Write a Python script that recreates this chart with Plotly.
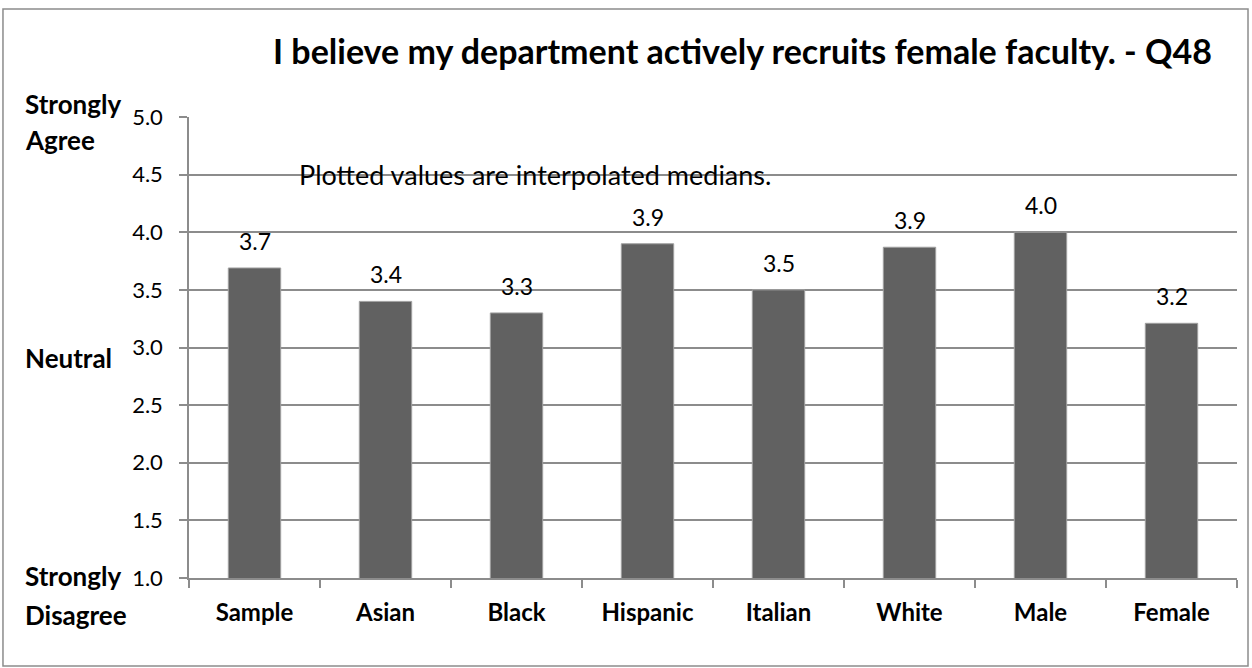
import plotly.graph_objects as go

categories = ["Sample", "Asian", "Black", "Hispanic", "Italian", "White", "Male", "Female"]
values = [3.69, 3.40, 3.30, 3.90, 3.50, 3.87, 4.00, 3.21]
y_ticks = [1.0, 1.5, 2.0, 2.5, 3.0, 3.5, 4.0, 4.5, 5.0]
title_text = "I believe my department actively recruits female faculty. - Q48"
note_text = "Plotted values are interpolated medians."
# (text, axis value, pixel shift)
scale_labels = [("Strongly", 5.0, 13), ("Agree", 5.0, -23),
                ("Neutral", 3.0, -10),
                ("Strongly", 1.0, 2), ("Disagree", 1.0, -37)]

FONT = "Lato"
GRID = "#8c8c8c"

fig = go.Figure()
fig.add_trace(go.Bar(
    x=categories, y=values,
    marker=dict(color="#616161", line=dict(color="#a0a0a0", width=1)),
    width=0.4,
))

for c, v in zip(categories, values):
    fig.add_annotation(x=c, y=v, text=f"{v:.1f}", showarrow=False,
                       yanchor="middle", yshift=27,
                       font=dict(family=FONT, size=23, color="#000000"))

fig.update_layout(
    width=1252, height=668,
    margin=dict(l=189, r=15, t=117, b=90),
    paper_bgcolor="white", plot_bgcolor="white",
    showlegend=False,
    font=dict(family=FONT, color="#000000"),
    xaxis=dict(
        type="category", showline=True, linecolor=GRID, linewidth=1.5,
        ticks="outside", tickson="boundaries", ticklen=8, tickcolor=GRID,
        tickwidth=1.5,
        tickfont=dict(family=FONT, size=24, weight="bold"),
        ticklabelstandoff=12,
        showgrid=False,
    ),
    yaxis=dict(
        range=[1, 5], tickvals=y_ticks, tickformat=".1f",
        showline=True, linecolor=GRID, linewidth=1.5,
        ticks="outside", ticklen=8, tickcolor=GRID, tickwidth=1.5,
        showgrid=True, gridcolor=GRID, gridwidth=1.5,
        tickfont=dict(family=FONT, size=22),
        ticklabelstandoff=12,
        zeroline=False,
    ),
)

fig.add_annotation(text=f"<b>{title_text}</b>", xref="paper", yref="paper",
                   x=0.5286, y=1.1432, xanchor="center", yanchor="middle",
                   showarrow=False, font=dict(family=FONT, size=34))
fig.add_annotation(text=note_text, x=2.14, y=4.5, xref="x", yref="y",
                   xanchor="center", yanchor="middle", showarrow=False,
                   font=dict(family=FONT, size=27))
for lbl, yv, sh in scale_labels:
    fig.add_annotation(text=f"<b>{lbl}</b>", xref="paper", yref="y",
                       x=-0.1584, y=yv, xanchor="left", yanchor="middle",
                       yshift=sh, showarrow=False,
                       font=dict(family=FONT, size=26))

fig.add_shape(type="rect", xref="paper", yref="paper",
              x0=-0.1775, x1=1.0105, y0=-0.1909, y1=1.2343,
              line=dict(color="#8c8c8c", width=1.5), fillcolor="rgba(0,0,0,0)")

fig.write_html("out.html", config={"displayModeBar": False},
               post_script="document.body.style.margin='0';")
